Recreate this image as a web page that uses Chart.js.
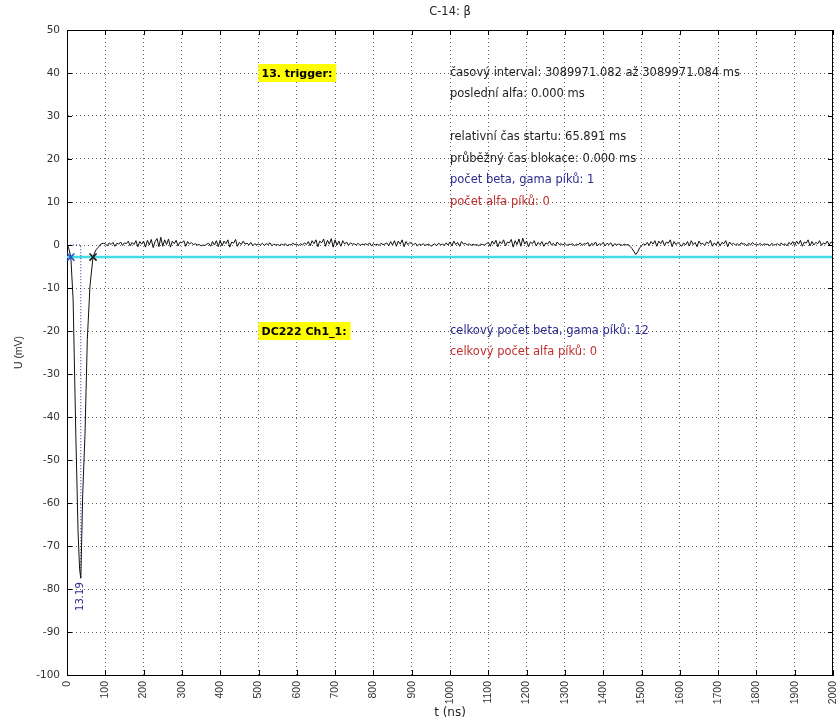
<!DOCTYPE html>
<html lang="cs">
<head>
<meta charset="UTF-8">
<title>C-14: β</title>
<script src="https://cdn.jsdelivr.net/npm/chart.js"></script>
<style>
  html, body { margin: 0; padding: 0; background: #fff; }
  #wrap { width: 840px; height: 722px; }
</style>
</head>
<body>
<div id="wrap"><canvas id="pulseChart" width="840" height="722"></canvas></div>
<script>
// pulse (t in ns, U in mV)
const pulseT = [0, 4, 10, 16, 23, 29, 33, 36, 38, 41, 47, 53, 60, 68, 75, 82, 88, 95];
const pulseU = [0.3, -0.6, -2.8, -12.8, -44, -67, -75.5, -77.5, -70, -58, -44, -22, -9.5, -2.8, -1.2, -0.5, 0.2, 0.4];

// baseline after the pulse, one sample every 5 ns from 100 ns to 2000 ns
const noiseStart = 100;
const noiseStep = 5;
const noiseU = [
  0.3, -0.2, 0.5, 0.1, 0.6, -0.3, 0.4, 0.2, 0.7, -0.1, 0.5, 0.3, 0.9, -0.2, 0.6, 0.1, 1.0, -0.4, 0.8, 0.2,
  0.9, -0.5, 1.1, 0.0, 1.3, -0.6, 0.8, 1.5, -0.4, 1.8, -0.3, 1.2, 0.1, 1.4, -0.5, 0.9, 0.3, 1.1, -0.2, 0.7,
  0.5, 1.0, -0.3, 0.8, 0.2, 0.6, 0.1, 0.3, 0.0, 0.1, -0.2, 0.0, -0.1, 0.2, 0.4, -0.3, 0.8, 0.0, 1.0, -0.4,
  1.1, -0.2, 0.9, 0.3, 1.2, -0.5, 0.7, 0.4, 1.3, -0.3, 0.6, 0.1, 0.9, 0.2, 0.4, 0.0, 0.6, -0.2, 0.3, 0.1,
  0.2, 0.0, 0.4, -0.1, 0.3, 0.1, 0.5, -0.2, 0.2, 0.0, 0.1, -0.1, 0.2, 0.0, 0.3, -0.2, 0.1, 0.0, 0.4, 0.1,
  0.2, -0.1, 0.3, 0.0, 0.5, 0.1, 0.8, -0.2, 1.0, 0.3, 1.2, -0.4, 0.9, 0.5, 1.4, -0.3, 1.1, 0.2, 1.5, -0.5,
  1.2, 0.0, 0.9, -0.3, 1.0, 0.2, 0.7, -0.1, 0.5, 0.2, 0.3, 0.0, 0.4, -0.1, 0.2, 0.1, 0.3, 0.0, 0.5, -0.2,
  0.3, 0.0, 0.2, -0.1, 0.4, 0.1, 0.2, 0.5, -0.2, 0.8, 0.0, 1.0, -0.3, 0.9, 0.2, 1.2, -0.4, 0.8, 0.1, 0.6,
  0.3, 0.1, 0.4, -0.2, 0.2, 0.0, 0.3, -0.1, 0.1, 0.2, -0.3, 0.0, 0.3, -0.2, 0.4, 0.1, 0.2, -0.1, 0.5, 0.0,
  0.7, -0.2, 0.9, 0.1, 0.6, -0.3, 0.8, 0.2, 0.4, 0.0, 0.3, -0.1, 0.2, 0.0, 0.1, -0.2, 0.2, 0.1, 0.0, 0.3,
  0.6, -0.3, 0.9, 0.2, 1.1, -0.4, 0.8, 0.3, 1.2, -0.2, 0.7, 0.5, 1.3, -0.5, 1.0, 0.1, 1.4, -0.3, 1.6, 0.2,
  0.9, -0.4, 0.7, 0.3, 1.0, -0.2, 0.6, 0.1, 0.8, -0.3, 0.5, 0.2, 0.9, 0.0, 0.4, -0.2, 0.7, 0.1, 0.3, 0.0,
  0.4, -0.1, 0.2, 0.1, 0.3, -0.2, 0.2, 0.0, 0.5, -0.1, 0.3, 0.2, 0.6, -0.3, 0.4, 0.0, 0.7, -0.2, 0.3, 0.1,
  0.6, -0.2, 0.4, 0.1, 0.5, -0.3, 0.3, 0.0, 0.2, 0.1, -0.1, 0.2, 0.0, 0.1, -0.3, -0.8, -1.5, -2.2, -1.6, -0.7,
  -0.2, 0.3, 0.0, 0.6, -0.1, 0.8, 0.2, 1.0, -0.3, 0.9, 0.3, 1.1, -0.2, 0.7, 0.4, 1.2, -0.4, 0.8, 0.1, 0.6,
  0.2, -0.3, 0.5, 0.0, 0.8, -0.2, 1.0, 0.1, 0.6, -0.4, 0.9, 0.2, 0.4, -0.1, 0.7, 0.3, 1.1, -0.3, 0.5, 0.0,
  0.8, -0.2, 0.6, 0.3, 1.0, -0.4, 0.7, 0.1, 0.4, 0.0, 0.3, -0.1, 0.5, 0.2, 0.3, -0.2, 0.4, 0.0, 0.6, 0.1,
  0.2, 0.0, 0.4, -0.1, 0.3, 0.1, 0.2, -0.2, 0.4, 0.0, 0.1, 0.3, -0.1, 0.5, 0.0, 0.3, -0.2, 0.6, 0.1, 0.8,
  -0.1, 0.9, 0.2, 1.1, -0.3, 0.7, 0.4, 1.2, -0.2, 0.8, 0.0, 0.6, 0.3, 1.0, -0.1, 0.5, 0.2, 0.9, 0.0, 0.7,
  0.4
];

// trigger level and pulse markers
const threshold = -2.8;
const startT = 10;
const endT = 68;
const peakT = 36;
const peakU = -77.5;
const peakLabel = '13.19';

// axis ranges
const tRange = [0, 2000];
const tStep = 100;
const uRange = [-100, 50];
const uStep = 10;

// info texts
const infoLines = [
  'časový interval: 3089971.082 až 3089971.084 ms',
  'poslední alfa: 0.000 ms',
  'relativní čas startu: 65.891 ms',
  'průběžný čas blokace: 0.000 ms',
  'počet beta, gama píků: 1',
  'počet alfa píků: 0',
  'celkový počet beta, gama píků: 12',
  'celkový počet alfa píků: 0'
];
const infoU = [40, 35, 25, 20, 15, 10, -20, -25];
const infoKind = ['plain', 'plain', 'plain', 'plain', 'beta', 'alfa', 'beta', 'alfa'];
const tagLines = ['13. trigger:', 'DC222 Ch1_1:'];
const tagU = [40, -20];
const infoT = 1000;
const tagT = 500;

const kindColor = { plain: '#1e1e1e', beta: '#2b2b8f', alfa: '#c0302c' };

const signal = pulseT.map((t, i) => ({ x: t, y: pulseU[i] }))
  .concat(noiseU.map((u, i) => ({ x: noiseStart + i * noiseStep, y: u })));

const overlay = {
  id: 'overlay',
  afterDatasetsDraw(chart) {
    const { ctx, chartArea: a, scales: { x, y } } = chart;
    ctx.save();

    // box + inward ticks
    ctx.strokeStyle = '#000';
    ctx.lineWidth = 1;
    ctx.beginPath();
    ctx.moveTo(a.left, a.top + 0.5); ctx.lineTo(a.right, a.top + 0.5);
    ctx.moveTo(a.right - 0.5, a.top); ctx.lineTo(a.right - 0.5, a.bottom);
    x.ticks.forEach(tk => {
      const px = Math.round(x.getPixelForValue(tk.value)) + 0.5;
      ctx.moveTo(px, a.bottom); ctx.lineTo(px, a.bottom - 5);
      ctx.moveTo(px, a.top); ctx.lineTo(px, a.top + 5);
    });
    y.ticks.forEach(tk => {
      const py = Math.round(y.getPixelForValue(tk.value)) + 0.5;
      ctx.moveTo(a.left, py); ctx.lineTo(a.left + 5, py);
      ctx.moveTo(a.right, py); ctx.lineTo(a.right - 5, py);
    });
    ctx.stroke();

    // title
    ctx.fillStyle = '#222';
    ctx.font = '11.5px "DejaVu Sans"';
    ctx.textAlign = 'center';
    ctx.textBaseline = 'middle';
    ctx.fillText('C-14: β', (a.left + a.right) / 2, 12);

    // info lines
    ctx.textAlign = 'left';
    infoLines.forEach((s, i) => {
      ctx.fillStyle = kindColor[infoKind[i]];
      ctx.fillText(s, x.getPixelForValue(infoT), y.getPixelForValue(infoU[i]));
    });

    // yellow tags
    ctx.font = 'bold 11px "DejaVu Sans"';
    tagLines.forEach((s, i) => {
      const px = x.getPixelForValue(tagT);
      const py = y.getPixelForValue(tagU[i]);
      const w = ctx.measureText(s).width + 7;
      ctx.fillStyle = '#ffff00';
      ctx.fillRect(px, py - 9, w, 18);
      ctx.fillStyle = '#000';
      ctx.fillText(s, px + 3, py + 1);
    });

    // peak label, vertical
    ctx.save();
    ctx.translate(x.getPixelForValue(peakT), y.getPixelForValue(peakU) + 4);
    ctx.rotate(-Math.PI / 2);
    ctx.textAlign = 'right';
    ctx.fillStyle = '#2b2b8f';
    ctx.font = '10px "DejaVu Sans"';
    ctx.fillText(peakLabel, 0, 0);
    ctx.restore();

    ctx.restore();
  }
};

new Chart(document.getElementById('pulseChart'), {
  type: 'line',
  data: {
    datasets: [
      {
        data: [{ x: startT, y: threshold }],
        showLine: false, pointStyle: 'crossRot', pointRadius: 5,
        pointBorderColor: '#2a4fc8', pointBorderWidth: 1.6
      },
      {
        data: [{ x: endT, y: threshold }],
        showLine: false, pointStyle: 'crossRot', pointRadius: 5,
        pointBorderColor: '#1a1a1a', pointBorderWidth: 1.6
      },
      {
        data: signal,
        borderColor: '#111', borderWidth: 1, pointRadius: 0, tension: 0
      },
      {
        data: [{ x: 0, y: 0 }, { x: peakT, y: 0 }, { x: peakT, y: peakU }],
        borderColor: '#2b2b8f', borderWidth: 1, borderDash: [1, 2], pointRadius: 0
      },
      {
        data: [{ x: tRange[0], y: threshold }, { x: tRange[1], y: threshold }],
        borderColor: '#42dde6', borderWidth: 2.5, pointRadius: 0
      }
    ]
  },
  options: {
    responsive: false,
    animation: false,
    layout: { padding: { top: 30, right: 7, left: 0, bottom: 0 } },
    plugins: { legend: { display: false }, tooltip: { enabled: false } },
    scales: {
      x: {
        type: 'linear', min: tRange[0], max: tRange[1],
        afterFit(s) { s.height = 47; s.paddingLeft = 0; s.paddingRight = 0; },
        ticks: {
          stepSize: tStep, autoSkip: false, minRotation: 90, maxRotation: 90, padding: 6,
          color: '#333', font: { family: 'Liberation Sans', size: 10.5 },
          callback: v => String(v)
        },
        grid: { color: 'rgba(0,0,0,0.6)', drawTicks: false },
        border: { color: '#000', width: 1, dash: [1, 3] },
        title: {
          display: true, text: 't (ns)', color: '#222',
          font: { family: 'DejaVu Sans', size: 12 }, padding: { top: 0, bottom: 2 }
        }
      },
      y: {
        type: 'linear', min: uRange[0], max: uRange[1],
        afterFit(s) { s.width = 67; s.paddingTop = 0; s.paddingBottom = 0; },
        ticks: {
          stepSize: uStep, padding: 7,
          color: '#333', font: { family: 'DejaVu Sans', size: 10.5 },
          callback: v => String(v)
        },
        grid: { color: 'rgba(0,0,0,0.6)', drawTicks: false },
        border: { color: '#000', width: 1, dash: [1, 3] },
        title: {
          display: true, text: 'U (mV)', color: '#222',
          font: { family: 'Liberation Sans', size: 10.5 }, padding: { top: 13, bottom: 0 }
        }
      }
    }
  },
  plugins: [overlay]
});
</script>
</body>
</html>
